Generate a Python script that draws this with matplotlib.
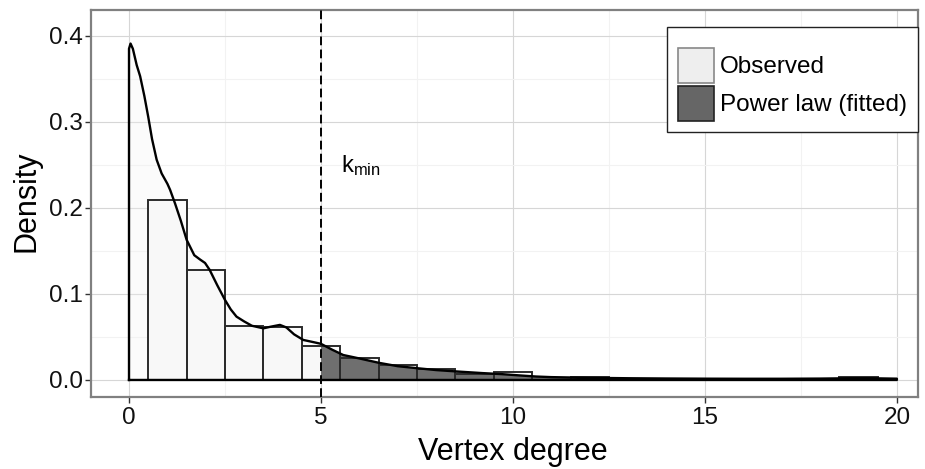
import matplotlib
matplotlib.use("Agg")
import matplotlib.pyplot as plt
import numpy as np
from matplotlib.patches import Patch

plt.rcParams['font.family'] = ['Liberation Sans', 'DejaVu Sans']
plt.rcParams['mathtext.fontset'] = 'custom'
plt.rcParams['mathtext.rm'] = 'Liberation Sans'
plt.rcParams['mathtext.it'] = 'Liberation Sans'

# Histogram (binwidth 1, bins centred on integer degrees)
bin_centers = [1, 2, 3, 4, 5, 6, 7, 8, 9, 10, 11, 12, 13, 14, 15, 16, 17, 18, 19]
bin_density = [0.209, 0.128, 0.063, 0.061, 0.040, 0.025, 0.0175, 0.0128, 0.007,
               0.0095, 0.0, 0.003, 0.0, 0.0, 0.0, 0.0, 0.0, 0.0, 0.003]

# Kernel density curve
dens_x = [0.0, 0.04, 0.1, 0.2, 0.29, 0.4, 0.5, 0.6, 0.72, 0.85, 1.0, 1.07, 1.2, 1.35,
          1.5, 1.7, 1.85, 1.98, 2.1, 2.3, 2.5, 2.65, 2.8, 3.0, 3.2, 3.5, 3.7, 3.93,
          4.1, 4.3, 4.54, 4.8, 5.0, 5.3, 5.58, 6.0, 6.5, 7.0, 7.5, 8.0, 8.6, 9.2,
          9.7, 10.2, 10.6, 11.0, 12.0, 13.0, 14.0, 15.0, 16.0, 17.0, 18.0, 18.8,
          19.3, 20.0]
dens_y = [0.385, 0.391, 0.385, 0.366, 0.353, 0.33, 0.306, 0.28, 0.256, 0.240, 0.228,
          0.221, 0.205, 0.185, 0.163, 0.145, 0.140, 0.136, 0.128, 0.110, 0.093, 0.082,
          0.0736, 0.068, 0.063, 0.060, 0.062, 0.064, 0.061, 0.053, 0.0465, 0.044,
          0.042, 0.035, 0.029, 0.025, 0.020, 0.016, 0.0137, 0.0115, 0.0097, 0.0080,
          0.0068, 0.0052, 0.0040, 0.0033, 0.0025, 0.0020, 0.0017, 0.0015, 0.0014,
          0.0014, 0.0016, 0.0020, 0.0020, 0.0015]

k_min = 5
x_ticks = [0, 5, 10, 15, 20]
y_ticks = [0.0, 0.1, 0.2, 0.3, 0.4]
legend_labels = ["Observed", "Power law (fitted)"]

W, H = 925, 469
L, R, T, B = 91, 918, 10, 397
fig = plt.figure(figsize=(W/100, H/100), dpi=100)
ax = fig.add_axes([L/W, 1-B/H, (R-L)/W, (B-T)/H])

ax.set_xlim(-0.99, 20.55)
ax.set_ylim(-0.0198, 0.430)

# grid
ax.set_xticks(x_ticks)
ax.set_yticks(y_ticks)
ax.set_xticks([2.5, 7.5, 12.5, 17.5], minor=True)
ax.set_yticks([0.05, 0.15, 0.25, 0.35], minor=True)
ax.grid(True, which='major', color='#d6d6d6', linewidth=0.8)
ax.grid(True, which='minor', color='#f2f2f2', linewidth=0.8)
ax.set_axisbelow(True)
ax.tick_params(which='minor', length=0)

# bars (fill)
ax.bar(bin_centers, bin_density, width=1.0, facecolor='#fcfcfc', edgecolor='none',
       linewidth=0, zorder=2)

dx = np.array(dens_x)
dy = np.array(dens_y)
ax.fill_between(dx, 0, dy, where=dx <= k_min, facecolor='#f2f2f2', alpha=0.3,
                linewidth=0, zorder=3)
ax.fill_between(dx, 0, dy, where=dx >= k_min, facecolor='#333333', alpha=0.7,
                linewidth=0, zorder=3)
# bars (outline, on top of the fills)
ax.bar(bin_centers, bin_density, width=1.0, fill=False, edgecolor='#2b2b2b',
       linewidth=1.4, zorder=3.5)
# density outline (full polygon)
px = np.concatenate([[dx[0]], dx, [dx[-1]], [dx[0]]])
py = np.concatenate([[0], dy, [0], [0]])
ax.plot(px, py, color='black', linewidth=1.7, zorder=4, solid_joinstyle='round')

ax.axvline(k_min, color='black', linestyle=(0, (4.5, 2.2)), linewidth=1.4, zorder=5)
ax.text(5.51, 0.242, r'k$_{\mathrm{min}}$', fontsize=17, color='black', ha='left',
        va='baseline', zorder=6)

for s in ax.spines.values():
    s.set_color('#808080')
    s.set_linewidth(1.6)
ax.tick_params(which='major', direction='out', length=4, width=1, color='#333333',
               labelsize=17.5, labelcolor='#111111')
ax.tick_params(axis='x', pad=3)
ax.tick_params(axis='y', pad=1.5)
ax.set_xticklabels([str(t) for t in x_ticks])
ax.set_yticklabels([f"{t:.1f}" for t in y_ticks])

ax.set_xlabel("Vertex degree", fontsize=22, va='baseline', ha='center')
ax.xaxis.set_label_coords((513-L)/(R-L), (B-460)/(B-T))
ax.set_ylabel("Density", fontsize=22, rotation=90, rotation_mode='anchor',
              va='baseline', ha='center')
ax.yaxis.set_label_coords((35-L)/(R-L), (B-201)/(B-T))

handles = [Patch(facecolor='#eeeeee', edgecolor='#888888', linewidth=1.2),
           Patch(facecolor='#666666', edgecolor='#222222', linewidth=1.2)]
leg = ax.legend(handles, legend_labels, loc='upper right',
                bbox_to_anchor=(1.0, 1-(27-T)/(B-T)),
                fontsize=17.5, handlelength=1.48, handleheight=1.84, handletextpad=0.25,
                labelspacing=0.12, borderpad=0.45, borderaxespad=0, fancybox=False,
                framealpha=1, edgecolor='#222222', title=' ', title_fontsize=5)
leg.get_frame().set_linewidth(1.0)
leg.set_zorder(10)

fig.savefig("out.png", dpi=100)
